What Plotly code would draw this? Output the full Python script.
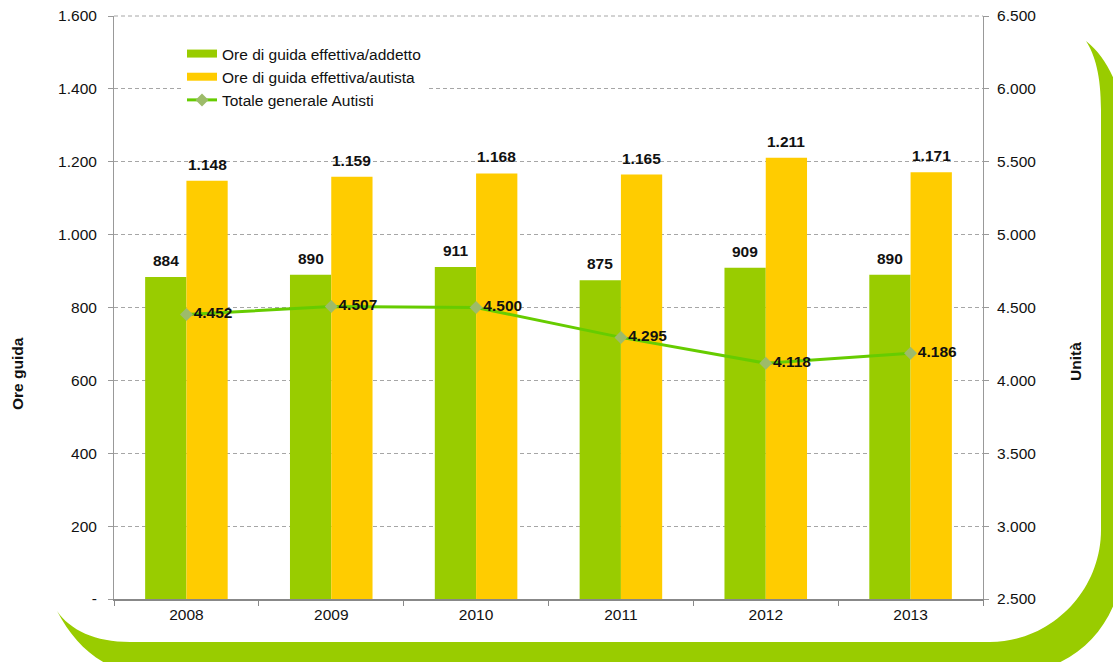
import plotly.graph_objects as go

# --- data ---
anni = ["2008", "2009", "2010", "2011", "2012", "2013"]
ore_addetto = [884, 890, 911, 875, 909, 890]
ore_autista = [1148, 1159, 1168, 1165, 1211, 1171]
totale_autisti = [4452, 4507, 4500, 4295, 4118, 4186]

left_ticks = [0, 200, 400, 600, 800, 1000, 1200, 1400, 1600]
right_ticks = [2500, 3000, 3500, 4000, 4500, 5000, 5500, 6000, 6500]


def it_num(v):
    """Italian thousands separator."""
    return f"{v:,.0f}".replace(",", ".")


left_labels = ["-" if v == 0 else it_num(v) for v in left_ticks]
right_labels = [it_num(v) for v in right_ticks]

GREEN = "#99CC00"
YELLOW = "#FFCC00"
LINE_GREEN = "#66CC00"
MARKER = "#9DBB6A"
GRID = "#A6A6A6"
FONT = "Liberation Sans, Arial, sans-serif"
FS = 15.5

W, H = 1113, 662
ML, MR, MT, MB = 114, 130, 16, 63
PW, PH = W - ML - MR, H - MT - MB
BARGAP = 0.43
BAR_OFFSET = PW / len(anni) * (1 - BARGAP) / 4  # px from category centre to bar centre

fig = go.Figure()

fig.add_trace(go.Bar(
    x=anni, y=ore_addetto, name="Ore di guida effettiva/addetto",
    marker=dict(color=GREEN, line=dict(width=0)), showlegend=False,
))
fig.add_trace(go.Bar(
    x=anni, y=ore_autista, name="Ore di guida effettiva/autista",
    marker=dict(color=YELLOW, line=dict(width=0)), showlegend=False,
))
fig.add_trace(go.Scatter(
    x=anni, y=totale_autisti, name="Totale generale Autisti", yaxis="y2",
    mode="lines+markers+text", legendrank=3,
    line=dict(color=LINE_GREEN, width=3),
    marker=dict(symbol="diamond", size=10, color=MARKER),
    text=["<b>" + it_num(v) + "</b>" for v in totale_autisti],
    textposition="middle right",
    textfont=dict(family=FONT, size=FS, color="#111"),
    cliponaxis=False,
))

# legend keys for the bar series, drawn as flat swatches
fig.add_trace(go.Scatter(x=[None], y=[None], mode="lines", legendrank=1,
                         name="Ore di guida effettiva/addetto",
                         line=dict(color=GREEN, width=8)))
fig.add_trace(go.Scatter(x=[None], y=[None], mode="lines", legendrank=2,
                         name="Ore di guida effettiva/autista",
                         line=dict(color=YELLOW, width=8)))

# value labels above each bar (x given as category index)
value_labels = []
for series, shift in ((ore_addetto, -BAR_OFFSET), (ore_autista, BAR_OFFSET)):
    for i, v in enumerate(series):
        value_labels.append(dict(
            x=i, y=v, xref="x", yref="y", text="<b>" + it_num(v) + "</b>",
            showarrow=False, xanchor="center", yanchor="bottom",
            xshift=shift, yshift=6,
            font=dict(family=FONT, size=FS, color="#111"),
        ))


# decorative rounded frame in the lower-right corner (pixel outline -> paper)
def px(x, y):
    return f"{(x - ML) / PW:.5f},{(H - MB - y) / PH:.5f}"


frame = (
    f"M {px(1086, 41)} "
    f"C {px(1095, 55)} {px(1101, 75)} {px(1101, 110)} "
    f"L {px(1101, 530)} "
    f"C {px(1101, 591)} {px(1051, 642)} {px(990, 642)} "
    f"L {px(130, 642)} "
    f"C {px(95, 642)} {px(70, 630)} {px(57, 611)} "
    f"C {px(75, 645)} {px(100, 668)} {px(140, 675)} "
    f"L {px(1000, 675)} "
    f"C {px(1080, 675)} {px(1125, 620)} {px(1125, 545)} "
    f"L {px(1125, 140)} "
    f"C {px(1125, 95)} {px(1110, 60)} {px(1086, 41)} Z"
)

fig.update_layout(
    width=W, height=H,
    margin=dict(l=ML, r=MR, t=MT, b=MB, autoexpand=False),
    paper_bgcolor="white", plot_bgcolor="white",
    font=dict(family=FONT, size=FS, color="#111"),
    barmode="group", bargap=BARGAP, bargroupgap=0,
    showlegend=True,
    legend=dict(
        x=(182 - ML) / PW, y=(H - MB - 37) / PH, xanchor="left", yanchor="top",
        bgcolor="white", font=dict(family=FONT, size=FS, color="#111"),
        traceorder="normal", itemwidth=30, tracegroupgap=0,
    ),
    shapes=[
        dict(type="path", path=frame, xref="paper", yref="paper",
             fillcolor=GREEN, line=dict(width=0), layer="below"),
        # dashed top border of the plot area
        dict(type="line", xref="paper", yref="paper", x0=0, x1=1, y0=1, y1=1,
             line=dict(color=GRID, width=1, dash="4px,3px"), layer="below"),
    ],
    annotations=value_labels + [
        dict(text="<b>Ore guida</b>", textangle=-90, showarrow=False,
             xref="paper", yref="paper", x=(17 - ML) / PW, y=(H - MB - 374) / PH,
             xanchor="center", yanchor="middle",
             font=dict(family=FONT, size=FS, color="#111")),
        dict(text="<b>Unità</b>", textangle=-90, showarrow=False,
             xref="paper", yref="paper", x=(1075 - ML) / PW, y=(H - MB - 362) / PH,
             xanchor="center", yanchor="middle",
             font=dict(family=FONT, size=FS, color="#111")),
    ],
    xaxis=dict(
        type="category", categoryorder="array", categoryarray=anni,
        range=[-0.5, len(anni) - 0.5],
        showline=True, linecolor="#888", linewidth=2,
        ticks="outside", tickson="boundaries", ticklen=5, tickcolor="#888",
        showgrid=False, tickfont=dict(size=FS, color="#111"),
    ),
    yaxis=dict(
        range=[0, 1600], tickvals=left_ticks, ticktext=left_labels,
        showline=True, linecolor="#999", linewidth=1,
        ticks="outside", ticklen=5, tickcolor="#999", ticklabelstandoff=8,
        showgrid=True, gridcolor=GRID, griddash="4px,3px", gridwidth=1,
        zeroline=False, tickfont=dict(size=FS, color="#111"),
        automargin=False,
    ),
    yaxis2=dict(
        range=[2500, 6500], tickvals=right_ticks, ticktext=right_labels,
        overlaying="y", side="right",
        showline=True, linecolor="#999", linewidth=1,
        ticks="outside", ticklen=5, tickcolor="#999", ticklabelstandoff=5,
        showgrid=False, zeroline=False, tickfont=dict(size=FS, color="#111"),
        automargin=False,
    ),
)

fig.write_html("out.html")
